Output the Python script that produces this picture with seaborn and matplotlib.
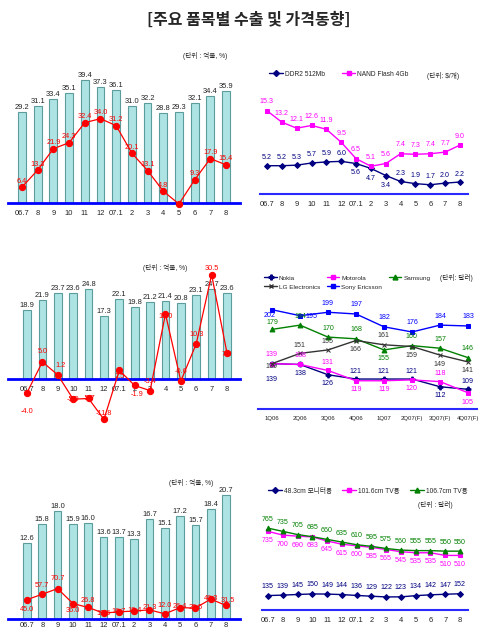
import numpy as np
import pandas as pd
import matplotlib
matplotlib.use('Agg')
import matplotlib.pyplot as plt
import seaborn as sns
from matplotlib.lines import Line2D

sns.set_style('white')
plt.rcParams['font.family'] = ['Liberation Sans', 'Noto Sans CJK KR']

# ---------------- data ----------------
months = ['06.7', '8', '9', '10', '11', '12', '07.1', '2', '3', '4', '5', '6', '7', '8']

semi_exports = [29.2, 31.1, 33.4, 35.1, 39.4, 37.3, 36.1, 31.0, 32.2, 28.8, 29.3, 32.1, 34.4, 35.9]
semi_growth = [6.4, 13.3, 21.9, 24.3, 32.4, 34.0, 31.2, 20.1, 13.1, 4.8, -0.4, 9.3, 17.9, 15.4]

ddr2_price = [5.2, 5.2, 5.3, 5.7, 5.9, 6.0, 5.6, 4.7, 3.4, 2.3, 1.9, 1.7, 2.0, 2.2]
nand_price = [15.3, 13.2, 12.1, 12.6, 11.9, 9.5, 6.5, 5.1, 5.6, 7.4, 7.3, 7.4, 7.7, 9.0]

phone_exports = [18.9, 21.9, 23.7, 23.6, 24.8, 17.3, 22.1, 19.8, 21.2, 21.4, 20.8, 23.1, 24.7, 23.6]
phone_growth = [-4.0, 5.0, 1.2, -5.9, -5.7, -11.8, 2.5, -1.9, -3.4, 19.0, -0.6, 10.3, 30.5, 7.6]

quarters = ['1Q06', '2Q06', '3Q06', '4Q06', '1Q07', '2Q07(F)', '3Q07(F)', '4Q07(F)']
nokia = [139, 138, 126, 121, 121, 121, 112, 109]
motorola = [139, 138, 131, 119, 119, 120, 118, 105]
samsung = [179, 184, 170, 168, 155, 160, 157, 146]
lg = [139, 151, 155, 166, 161, 159, 149, 141]
sony = [202, 195, 199, 197, 182, 176, 184, 183]

lcd_exports = [12.6, 15.8, 18.0, 15.9, 16.0, 13.6, 13.7, 13.3, 16.7, 15.1, 17.2, 15.7, 18.4, 20.7]
lcd_growth = [45.0, 57.7, 70.7, 36.0, 26.8, 13.6, 16.7, 18.4, 21.3, 12.0, 26.4, 25.5, 46.3, 31.5]

monitor_19 = [135, 139, 145, 150, 149, 144, 136, 129, 122, 123, 134, 142, 147, 152]
tv_40 = [735, 700, 690, 683, 645, 615, 600, 585, 565, 545, 535, 535, 510, 510]
tv_42 = [765, 735, 705, 685, 660, 635, 610, 595, 575, 560, 555, 555, 550, 550]

# ---------------- layout helpers ----------------
W, H = 480, 632
fig = plt.figure(figsize=(W / 100, H / 100), dpi=100)

def px_axes(l, t, r, b):
    return fig.add_axes([l / W, 1 - b / H, (r - l) / W, (b - t) / H])

def xlims(l, r, xfirst, xlast, n):
    sp = (xlast - xfirst) / (n - 1)
    return (-(xfirst - l) / sp, (n - 1) + (r - xlast) / sp)

def ylims(t, b, base, scale, base_val=0.0):
    return (base_val - (b - base) / scale, base_val + (base - t) / scale)

BAR_FACE = '#aee3e3'
BAR_EDGE = '#5b9d9d'
RED = '#ff0000'
TXT = '#222222'

def bar_line_panel(l, t, r, b, base, xfirst, xlast, bars, bscale, line, lscale,
                   loffs, hide=(), tick_pad=5):
    ax = px_axes(l, t, r, b)
    n = len(bars)
    x = np.arange(n)
    df = pd.DataFrame({'x': x, 'v': bars})
    sns.barplot(data=df, x='x', y='v', ax=ax, color=BAR_FACE, width=0.5,
                edgecolor=BAR_EDGE, linewidth=0.8, saturation=1)
    ax.set_xlim(*xlims(l, r, xfirst, xlast, n))
    ax.set_ylim(*ylims(t, b, base, bscale))
    for xi, v in zip(x, bars):
        ax.text(xi, v + 1.0 / bscale, f'{v:.1f}', ha='center', va='bottom',
                fontsize=5.4, color=TXT)
    for s in ['top', 'right', 'left']:
        ax.spines[s].set_visible(False)
    ax.spines['bottom'].set_position(('data', 0))
    ax.spines['bottom'].set_color('#0000ff')
    ax.spines['bottom'].set_linewidth(2)
    ax.set_xticks(x)
    ax.set_xticklabels(months, fontsize=5.4, color=TXT)
    ax.tick_params(axis='x', length=0, pad=tick_pad)
    ax.set_yticks([])
    ax.set_xlabel('')
    ax.set_ylabel('')

    ax2 = ax.twinx()
    sns.lineplot(x=x, y=line, ax=ax2, color=RED, marker='o', markersize=4.5,
                 markeredgecolor=RED, linewidth=0.9, clip_on=False)
    ax2.set_ylim(*ylims(t, b, base, lscale))
    ax2.set_xlim(ax.get_xlim())
    for i, (xi, v) in enumerate(zip(x, line)):
        if i in hide:
            continue
        dx, dy = loffs[i]
        ax2.annotate(f'{v:.1f}', (xi, v), xytext=(dx, dy), textcoords='offset pixels',
                     ha='center', va='center', fontsize=5.3, color=RED,
                     annotation_clip=False)
    for s in ax2.spines.values():
        s.set_visible(False)
    ax2.set_yticks([])
    ax2.set_ylabel('')
    return ax, ax2

# Panel 1: semiconductors
offs1 = [(0, 6)] * 14
bar_line_panel(8, 60, 240, 206, 203, 22, 226, semi_exports, 3.12, semi_growth, 2.48,
               offs1, hide=(10,))
fig.text(205 / W, 1 - 56 / H, '(단위 : 억불, %)', ha='center', va='center', fontsize=4.8)

# Panel 3: mobile phones
offs3 = [(0, -19), (0, 10), (3, 9), (0, 0), (0, 0), (0, 6), (0, -6), (2, -9),
         (0, 9), (0, -2), (0, 10), (0, 9), (0, 6), (0, -1)]
bar_line_panel(8, 258, 240, 422, 379, 27, 227, phone_exports, 3.63, phone_growth, 3.42,
               offs3)
fig.text(165 / W, 1 - 268 / H, '(단위 : 억불, %)', ha='center', va='center', fontsize=4.8)

# Panel 5: LCD
offs5 = [(0, -10), (0, 9), (0, 10), (0, -7), (0, 7), (0, 0), (0, 0), (0, 1),
         (0, 2), (0, 8), (0, 1), (0, 1), (0, 1), (2, 5)]
bar_line_panel(8, 478, 240, 619, 619, 27, 226, lcd_exports, 6.0, lcd_growth, 0.43,
               offs5, tick_pad=2.5)
fig.text(191 / W, 1 - 483 / H, '(단위 : 억불, %)', ha='center', va='center', fontsize=4.8)

# ---------------- right panels ----------------
def line_panel(l, t, r, b, base, xfirst, xlast, xlabels, scale, base_val, series):
    ax = px_axes(l, t, r, b)
    n = len(xlabels)
    x = np.arange(n)
    handles = {}
    for name, vals, color, mk, ms, offs in series:
        sns.lineplot(x=x, y=vals, ax=ax, color=color, marker=mk, markersize=ms,
                     markeredgecolor=color, markerfacecolor=color, linewidth=1.0,
                     clip_on=False)
        handles[name] = Line2D([], [], color=color, marker=mk, markersize=ms,
                               markeredgecolor=color, markerfacecolor=color,
                               linewidth=1.0, label=name)
        for i, (xi, v) in enumerate(zip(x, vals)):
            dx, dy = offs[i]
            txt = f'{v:.1f}' if isinstance(v, float) else f'{v}'
            ax.annotate(txt, (xi, v), xytext=(dx, dy), textcoords='offset pixels',
                        ha='center', va='center', fontsize=5.1, color=color,
                        annotation_clip=False)
    ax.set_xlim(*xlims(l, r, xfirst, xlast, n))
    ax.set_ylim(*ylims(t, b, base, scale, base_val))
    for s in ['top', 'right', 'left']:
        ax.spines[s].set_visible(False)
    ax.spines['bottom'].set_color('#2a2aff')
    ax.spines['bottom'].set_linewidth(1.5)
    ax.set_xticks(x)
    ax.set_xticklabels(xlabels, fontsize=5.4, color=TXT)
    ax.tick_params(axis='x', length=0, pad=5)
    ax.set_yticks([])
    ax.set_xlabel('')
    ax.set_ylabel('')
    return ax, handles

# Panel 2: memory prices
ddr_offs = [(0, 8)] * 6 + [(0, -9), (0, -10), (0, -10)] + [(0, 8)] * 5
nand_offs = [(0, 9)] * 14
ax2p, h2 = line_panel(260, 74, 468, 194, 194, 267, 460, months, 5.44, 0.0, [
    ('DDR2 512Mb', ddr2_price, '#000080', 'D', 3.0, ddr_offs),
    ('NAND Flash 4Gb', nand_price, '#ff00ff', 's', 3.0, nand_offs),
])
ax2p.legend(handles=[h2['DDR2 512Mb'], h2['NAND Flash 4Gb']], loc='center left',
            bbox_to_anchor=(266 / W, 1 - 74 / H),
            bbox_transform=fig.transFigure, ncol=2, frameon=False, fontsize=4.8,
            handlelength=2.0, columnspacing=2.6, handletextpad=0.3, borderpad=0)
fig.text(443 / W, 1 - 76 / H, '(단위: $/개)', ha='center', va='center', fontsize=4.8)

# Panel 4: handset prices
nokia_offs = [(0, -16), (0, -9), (0, -9), (0, 8), (0, 8), (0, 8), (0, -9), (0, 8)]
moto_offs = [(0, 9), (0, 9), (0, 8), (0, -9), (0, -9), (0, -9), (0, 8), (0, -10)]
sam_offs = [(0, 7), (0, 9), (0, 9), (0, 9), (0, -9), (0, 9), (0, 9), (0, 9)]
lg_offs = [(0, -3), (0, 8), (0, 8), (0, -9), (0, 9), (0, -9), (0, -9), (0, -9)]
sony_offs = [(-2, -6), (12, -1), (0, 9), (0, 9), (0, 9), (0, 9), (0, 9), (0, 9)]
ax4, h4 = line_panel(258, 300, 477, 409, 409, 272, 468, quarters, 0.856, 86.0, [
    ('Nokia', nokia, '#000080', 'P', 3.5, nokia_offs),
    ('Motorola', motorola, '#ff00ff', 's', 3.0, moto_offs),
    ('Samsung', samsung, '#008000', '^', 3.5, sam_offs),
    ('LG Electronics', lg, '#333333', 'x', 3.5, lg_offs),
    ('Sony Ericsson', sony, '#0000ff', 's', 3.0, sony_offs),
])
ax4.tick_params(axis='x', labelsize=4.3)
leg_order = ['Nokia', 'LG Electronics', 'Motorola', 'Sony Ericsson', 'Samsung']
ax4.legend(handles=[h4[k] for k in leg_order], loc='upper left',
           bbox_to_anchor=(261 / W, 1 - 272 / H),
           bbox_transform=fig.transFigure, ncol=3, frameon=False, fontsize=4.6,
           handlelength=2.0, columnspacing=1.0, handletextpad=0.3, borderpad=0,
           labelspacing=0.55)
fig.text(456 / W, 1 - 278 / H, '(단위: 달러)', ha='center', va='center', fontsize=4.8)

# Panel 6: LCD panel prices
mon_offs = [(0, 9)] * 14
tv40_offs = [(0, -9)] * 14
tv42_offs = [(0, 9)] * 14
ax6, h6 = line_panel(262, 515, 468, 610, 610, 268, 460, months, 0.107, 0.0, [
    ('48.3cm 모니터용', monitor_19, '#000080', 'D', 3.0, mon_offs),
    ('101.6cm TV용', tv_40, '#ff00ff', 's', 3.0, tv40_offs),
    ('106.7cm TV용', tv_42, '#008000', '^', 3.5, tv42_offs),
])
ax6.legend(handles=list(h6.values()), loc='center left',
           bbox_to_anchor=(265 / W, 1 - 491 / H),
           bbox_transform=fig.transFigure, ncol=3, frameon=False, fontsize=4.8,
           handlelength=2.0, columnspacing=1.6, handletextpad=0.3, borderpad=0)
fig.text(435 / W, 1 - 505 / H, '(단위 : 달러)', ha='center', va='center', fontsize=4.8)

# Title
fig.text(249 / W, 1 - 20 / H, '[주요 품목별 수출 및 가격동향]', ha='center', va='center',
         fontsize=11.5, fontweight='bold', family=['Noto Sans CJK KR', 'DejaVu Sans'])

fig.savefig('out.png', dpi=100)
